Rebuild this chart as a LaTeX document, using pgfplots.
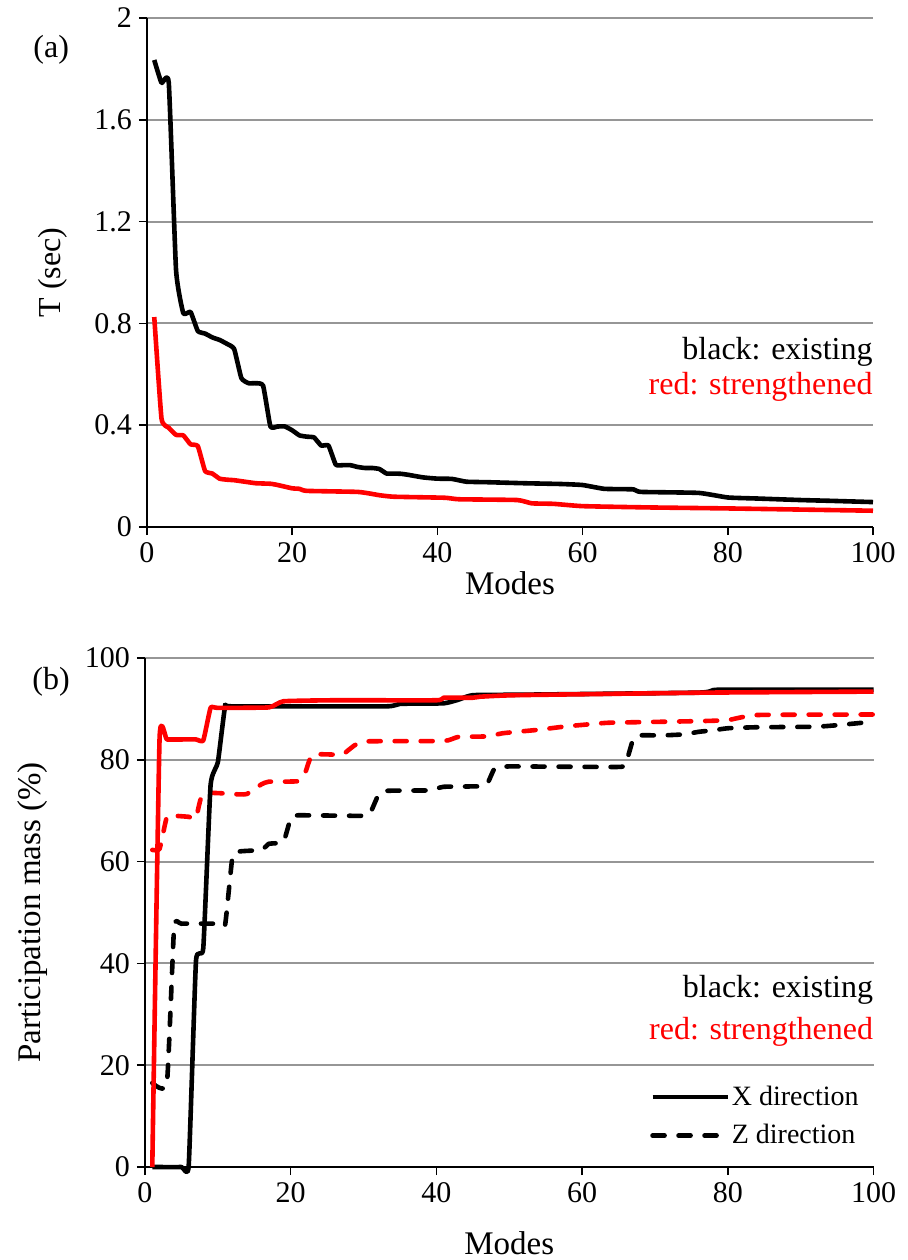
\documentclass[border=0pt]{standalone}
\usepackage{fontspec}
\setmainfont{Liberation Serif}
\usepackage{pgfplots}
\pgfplotsset{compat=1.18}
\definecolor{gridgray}{RGB}{150,150,150}
\definecolor{myred}{RGB}{255,0,0}
\pgfplotsset{
  panel/.style={
    scale only axis,
    xmin=0, xmax=100,
    axis x line*=bottom, axis y line*=left,
    axis line style={line width=0.8pt, black, -},
    tick align=outside,
    major tick length=4pt,
    tick style={line width=0.8pt, black},
    xtick={0,20,40,60,80,100},
    ymajorgrids,
    major grid style={line width=1pt, gridgray},
    /pgf/number format/assume math mode=true,
    tick label style={font=\fontsize{15}{18}\selectfont},
    clip=false,
  },
  curve/.style={line width=2.3pt, smooth, tension=0.25, line join=round},
  dsh/.style={dash pattern=on 6pt off 7pt, line cap=round},
}
\begin{document}
\begin{tikzpicture}
\useasboundingbox (0,0) rectangle (453.5pt,-630pt);
% ---------------- (a) ----------------
\begin{axis}[panel,
  at={(73.5pt,-263.5pt)}, anchor=south west,
  width=363pt, height=254.5pt,
  ymin=0, ymax=2, ytick={0,0.4,0.8,1.2,1.6,2},
  xlabel={Modes}, ylabel={T (sec)},
  every axis x label/.style={at={(axis description cs:0.5,-0.11)},anchor=center,font=\fontsize{16.5}{20}\selectfont},
  every axis y label/.style={at={(axis description cs:-0.13,0.5)},rotate=90,anchor=center,font=\fontsize{16}{20}\selectfont},
]
\addplot[curve, black] coordinates {
(1,1.835)(2,1.745)(3,1.745)(4,1.01)(5,0.84)(6,0.845)(7,0.77)(8,0.76)(9,0.745)(10,0.735)
(11,0.72)(12,0.70)(13,0.585)(14,0.565)(15,0.565)(16,0.555)(17,0.395)(18,0.395)(19,0.395)(20,0.38)
(21,0.36)(22,0.355)(23,0.352)(24,0.32)(25,0.32)(26,0.245)(27,0.243)(28,0.243)(29,0.236)(30,0.232)
(31,0.232)(32,0.228)(33,0.21)(34,0.21)(35,0.209)(36,0.205)(38,0.195)(40,0.19)(42,0.189)(44,0.178)
(47,0.176)(52,0.172)(57,0.169)(60,0.165)(63,0.150)(67,0.148)(68,0.138)(76,0.134)(80,0.116)(84,0.112)
(90,0.106)(94,0.103)(100,0.098)};
\addplot[curve, myred] coordinates {
(1,0.825)(2,0.426)(3,0.39)(4,0.362)(5,0.36)(6,0.325)(7,0.318)(8,0.22)(9,0.21)(10,0.19)
(11,0.186)(12,0.184)(13,0.18)(15,0.172)(17,0.17)(18,0.165)(20,0.152)(21,0.150)(22,0.142)(29,0.138)
(31,0.13)(32,0.125)(34,0.119)(41,0.115)(43,0.109)(51,0.106)(53,0.093)(56,0.091)(60,0.082)(69,0.077)
(80,0.073)(100,0.064)};
\node[anchor=center, font=\fontsize{16}{19}\selectfont] at (axis description cs:-0.132,0.938) {(a)};
\node[anchor=east, inner sep=0pt, font=\fontsize{16}{19}\selectfont] at (axis cs:100,0.69) {black: existing};
\node[anchor=east, inner sep=0pt, font=\fontsize{16}{19}\selectfont, text=myred] at (axis cs:100,0.549) {red: strengthened};
\end{axis}
% ---------------- (b) ----------------
\begin{axis}[panel,
  at={(72.5pt,-583.5pt)}, anchor=south west,
  width=364.25pt, height=254.5pt,
  ymin=0, ymax=100, ytick={0,20,40,60,80,100},
  xlabel={Modes}, ylabel={Participation mass (\%)},
  every axis x label/.style={at={(axis description cs:0.5,-0.149)},anchor=center,font=\fontsize{16.5}{20}\selectfont},
  every axis y label/.style={at={(axis description cs:-0.155,0.5)},rotate=90,anchor=center,font=\fontsize{16.5}{20}\selectfont},
  legend image code/.code={\draw[#1] (0pt,0pt) -- (37.5pt,0pt);},
  legend style={draw=none, fill=none, font=\fontsize{14}{16}\selectfont,
    at={(axis cs:69.3,16.4)}, anchor=north west, inner sep=0pt, row sep=6pt,
    nodes={inner sep=1pt}},
  legend cell align=left,
]
\addplot[curve, black, dsh, forget plot] coordinates {
(1,16.5)(3,16.3)(4,47.2)(5,47.8)(10,47.8)(11,47.6)(12,60.9)(13,62.0)(16,62.3)(17,63.5)
(19,63.9)(20,68.5)(21,69.1)(30,69.0)(31,69.8)(32,73.0)(33,73.9)(39,74.0)(41,74.7)(46,74.8)
(47,75.3)(48,78.3)(50,78.7)(65,78.6)(66,79.3)(67,84.0)(68,84.8)(71,84.8)(74,85.0)(76,85.5)
(78,85.8)(80,86.2)(84,86.4)(92,86.5)(95,86.8)(100,87.5)};
\addplot[curve, myred, dsh, forget plot] coordinates {
(1,62.3)(2,62.5)(3,68.8)(4,69.0)(6,68.8)(7,68.5)(8,73.4)(13,73.2)(14,73.3)(16,75.2)
(17,75.7)(21,75.8)(22,77.5)(23,81.0)(27,81.0)(28,82.0)(30,83.6)(41,83.7)(43,84.5)(47,84.6)
(49,85.2)(51,85.5)(54,85.9)(58,86.6)(62,87.1)(64,87.3)(76,87.6)(80,87.8)(84,88.8)(100,88.9)};
\addplot[curve, black, forget plot] coordinates {
(1,0)(5,0)(6,0.3)(7,40.5)(8,43)(9,75)(10,79.5)(11,90.5)(12,90.5)(33,90.5)
(35,91.0)(41,91.1)(43,91.8)(45,92.7)(52,92.8)(76,93.2)(78,93.7)(80,93.8)(100,93.8)};
\addplot[curve, myred, forget plot] coordinates {
(1,0)(2,84.2)(3,84)(5,84)(7,84)(8,83.8)(9,90.2)(10,90.2)(17,90.3)(19,91.5)
(26,91.7)(40,91.7)(41,92.2)(45,92.2)(46,92.4)(51,92.7)(77,93.2)(100,93.4)};
\addlegendimage{black, line width=2.3pt}
\addlegendentry{X direction}
\addlegendimage{black, line width=2.3pt, dsh}
\addlegendentry{Z direction}
\node[anchor=center, font=\fontsize{16}{19}\selectfont] at (axis description cs:-0.129,0.953) {(b)};
\node[anchor=east, inner sep=0pt, font=\fontsize{16}{19}\selectfont] at (axis cs:100,34.8) {black: existing};
\node[anchor=east, inner sep=0pt, font=\fontsize{16}{19}\selectfont, text=myred] at (axis cs:100,26.5) {red: strengthened};
\end{axis}
\end{tikzpicture}
\end{document}
